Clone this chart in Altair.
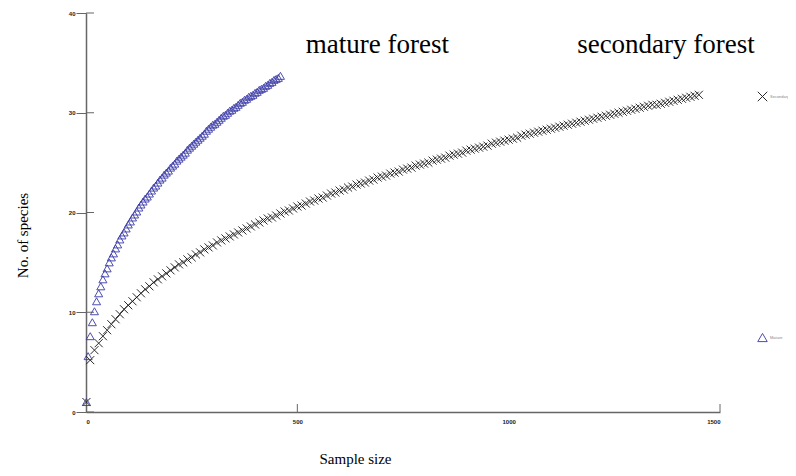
import altair as alt
import pandas as pd

# ---- data ----
mature_n = [1] + list(range(5, 461, 5))
mature_s = [1.0,
    5.6, 7.6, 9.0, 10.1, 11.1, 11.9, 12.6, 13.3, 13.9, 14.4,
    15.0, 15.5, 15.9, 16.4, 16.8, 17.3, 17.7, 18.0, 18.4, 18.8,
    19.1, 19.5, 19.8, 20.1, 20.5, 20.8, 21.1, 21.4, 21.6, 21.9,
    22.2, 22.5, 22.7, 23.0, 23.3, 23.5, 23.8, 24.0, 24.2, 24.5,
    24.7, 24.9, 25.2, 25.4, 25.6, 25.8, 26.0, 26.3, 26.5, 26.7,
    26.9, 27.1, 27.3, 27.5, 27.7, 27.9, 28.2, 28.4, 28.6, 28.8,
    28.9, 29.1, 29.3, 29.5, 29.7, 29.8, 30.0, 30.2, 30.3, 30.5,
    30.6, 30.8, 31.0, 31.1, 31.3, 31.4, 31.6, 31.7, 31.8, 32.0,
    32.1, 32.3, 32.4, 32.5, 32.7, 32.8, 33.0, 33.1, 33.3, 33.4,
    33.5, 33.7]

secondary_n = [1] + list(range(10, 1451, 10))
secondary_s = [1.0,
    5.2, 6.2, 6.9, 7.6, 8.2, 8.8, 9.3, 9.8, 10.3, 10.7,
    11.1, 11.5, 11.9, 12.3, 12.6, 13.0, 13.3, 13.6, 13.9, 14.2,
    14.5, 14.8, 15.0, 15.3, 15.5, 15.8, 16.0, 16.3, 16.5, 16.7,
    17.0, 17.2, 17.4, 17.6, 17.8, 18.0, 18.2, 18.4, 18.6, 18.8,
    19.0, 19.2, 19.4, 19.5, 19.7, 19.9, 20.1, 20.2, 20.4, 20.6,
    20.7, 20.9, 21.1, 21.2, 21.4, 21.5, 21.7, 21.9, 22.0, 22.2,
    22.3, 22.5, 22.6, 22.8, 22.9, 23.0, 23.2, 23.3, 23.5, 23.6,
    23.7, 23.9, 24.0, 24.1, 24.3, 24.4, 24.5, 24.7, 24.8, 24.9,
    25.0, 25.2, 25.3, 25.4, 25.5, 25.7, 25.8, 25.9, 26.0, 26.2,
    26.3, 26.4, 26.5, 26.6, 26.7, 26.9, 27.0, 27.1, 27.2, 27.3,
    27.4, 27.5, 27.7, 27.8, 27.9, 28.0, 28.1, 28.2, 28.3, 28.4,
    28.5, 28.6, 28.7, 28.8, 28.9, 29.0, 29.1, 29.2, 29.3, 29.4,
    29.5, 29.6, 29.7, 29.8, 29.9, 30.0, 30.1, 30.2, 30.3, 30.4,
    30.5, 30.6, 30.7, 30.8, 30.8, 30.9, 31.0, 31.1, 31.2, 31.3,
    31.4, 31.5, 31.6, 31.7, 31.8]

series_names = ["Secondary", "Mature"]
x_ticks = [0, 500, 1000, 1500]
y_ticks = [0, 10, 20, 30, 40]
x_inner_ticks = [500, 1500]

annot_text = ["mature forest", "secondary forest"]
annot_x = [520, 1162]
annot_y = [36.8, 36.8]

# ---- tables ----
df = pd.concat([
    pd.DataFrame({"n": secondary_n, "S": secondary_s, "forest": series_names[0], "o": 0}),
    pd.DataFrame({"n": mature_n, "S": mature_s, "forest": series_names[1], "o": 1}),
])
annot_df = pd.DataFrame({"t": annot_text, "x": annot_x, "y": annot_y})
xt_df = pd.DataFrame({"x": x_inner_ticks})
yt_df = pd.DataFrame({"y": y_ticks})

SERIF = "Liberation Serif"
xscale = alt.Scale(domain=[0, 1500], nice=False)
yscale = alt.Scale(domain=[0, 40], nice=False)
CROSS = "M-1,-1L1,1M-1,1L1,-1"

leg = alt.Legend(title=None, orient="none", legendX=671, legendY=78,
                 rowPadding=227, labelFontSize=4, labelColor="#888", labelOffset=2,
                 symbolSize=90, symbolStrokeWidth=1, padding=0)

points = alt.Chart(df).mark_point(filled=False, size=65, strokeWidth=1, opacity=0.9).encode(
    x=alt.X("n:Q", scale=xscale,
            axis=alt.Axis(values=x_ticks, format="d", ticks=False, labelPadding=6, labelFontSize=6,
                          title="Sample size", titleFont=SERIF, titleFontSize=15,
                          titleFontWeight="normal", titleX=269, titleY=46,
                          titleBaseline="middle", titleAlign="center")),
    y=alt.Y("S:Q", scale=yscale,
            axis=alt.Axis(values=y_ticks, tickSize=10, tickColor="#666", labelPadding=1,
                          labelFontSize=6, title="No. of species", titleFont=SERIF,
                          titleFontSize=15, titleFontWeight="normal", titleX=-64,
                          titleY=222, titleBaseline="middle", titleAlign="center")),
    shape=alt.Shape("forest:N", scale=alt.Scale(domain=series_names, range=[CROSS, "triangle-up"]),
                    legend=leg),
    color=alt.Color("forest:N", scale=alt.Scale(domain=series_names, range=["#151515", "#3b3ba8"]),
                    legend=leg),
    order=alt.Order("o:Q"),
)

texts = alt.Chart(annot_df).mark_text(font=SERIF, fontSize=27, align="left",
                                      baseline="middle", color="black").encode(
    x=alt.X("x:Q", scale=xscale), y=alt.Y("y:Q", scale=yscale), text="t:N")

xt = alt.Chart(xt_df).mark_rule(color="#666", strokeWidth=1).encode(
    x=alt.X("x:Q", scale=xscale), y=alt.value(399), y2=alt.value(391))
yt = alt.Chart(yt_df).mark_rule(color="#666", strokeWidth=1).encode(
    y=alt.Y("y:Q", scale=yscale), x=alt.value(0), x2=alt.value(8))

chart = alt.layer(xt, yt, points, texts).properties(
    width=634, height=399,
    padding={"left": 78, "top": 5, "right": 68, "bottom": 56},
    autosize=alt.AutoSizeParams(type="none"),
).configure_view(stroke=None).configure_axis(
    grid=False, domainColor="#666", domainWidth=1.5, labelColor="#222", labelFontWeight="bold"
)

chart.save("out.html", embed_options={"renderer": "svg", "actions": False})
